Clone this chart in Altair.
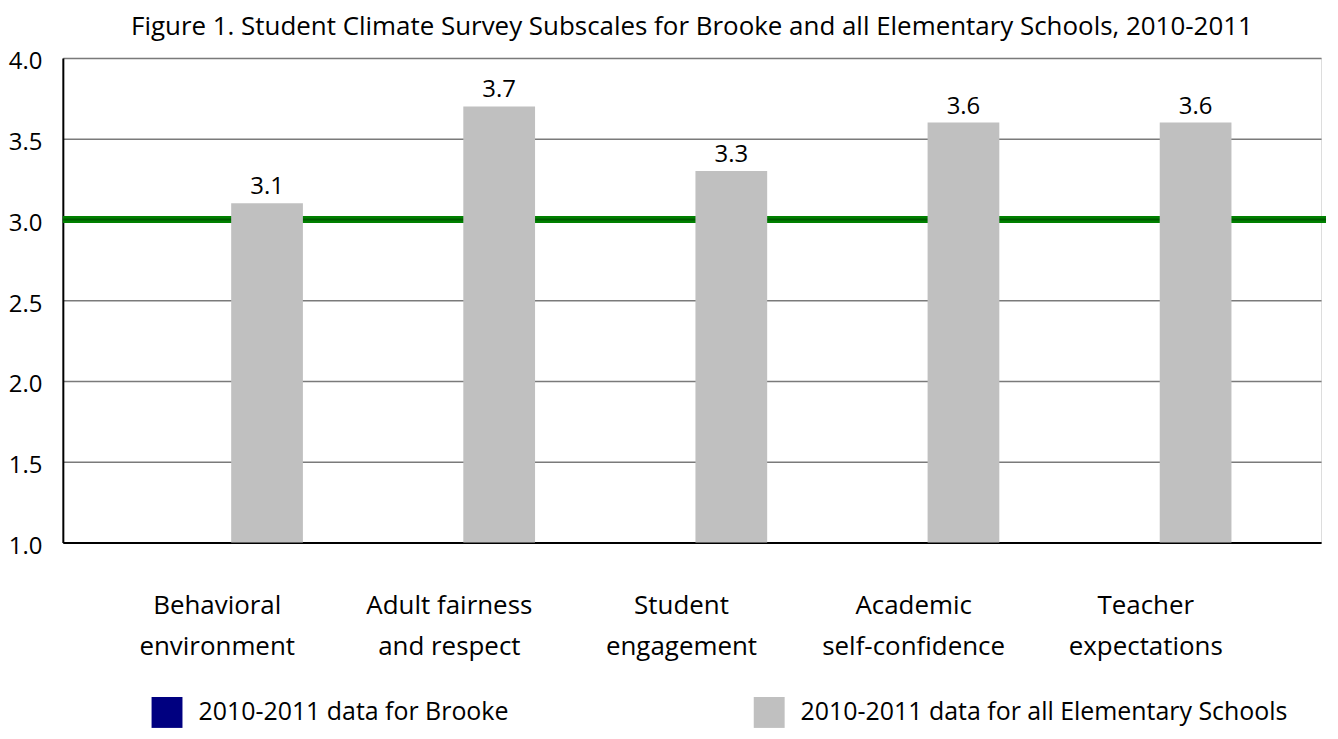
import altair as alt
import pandas as pd

# ---- data ----
categories = ["Behavioral environment", "Adult fairness and respect", "Student engagement",
              "Academic self-confidence", "Teacher expectations"]
label_lines = [["Behavioral", "environment"], ["Adult fairness", "and respect"], ["Student", "engagement"],
               ["Academic", "self-confidence"], ["Teacher", "expectations"]]
series = ["2010-2011 data for Brooke", "2010-2011 data for all Elementary Schools"]
brooke_values = [None, None, None, None, None]
all_elem_values = [3.1, 3.7, 3.3, 3.6, 3.6]
target = 3.0
y_min, y_max = 1.0, 4.0
title_text = "Figure 1. Student Climate Survey Subscales for Brooke and all Elementary Schools, 2010-2011"

FONT = "Open Sans"
W, H = 1262, 486

rows = []
for c, b, a in zip(categories, brooke_values, all_elem_values):
    rows.append({"cat": c, "series": series[0], "value": b})
    rows.append({"cat": c, "series": series[1], "value": a})
df = pd.DataFrame(rows)

# multi-line label expression
parts = []
for c, lines in zip(categories, label_lines):
    arr = "[" + ",".join("'" + l + "'" for l in lines) + "]"
    parts.append(f"datum.value == '{c}' ? {arr} : ")
label_expr = "".join(parts) + "datum.label"

x_enc = alt.X("cat:N", sort=categories, title=None,
              scale=alt.Scale(paddingInner=0.1416, paddingOuter=0.2808, align=0.42),
              axis=alt.Axis(labelAngle=0, labelExpr=label_expr, labelFont=FONT, labelFontSize=26,
                            labelColor="black", labelPadding=50, labelLineHeight=41, ticks=False,
                            domainColor="black", domainWidth=2, labelLimit=400))
xoff = alt.XOffset("series:N", sort=series, scale=alt.Scale(paddingInner=0.28, paddingOuter=0.14))
y_enc = alt.Y("value:Q", title=None,
              scale=alt.Scale(domain=[y_min, y_max], zero=False, nice=False),
              axis=alt.Axis(values=[1.0, 1.5, 2.0, 2.5, 3.0, 3.5, 4.0], format=".1f", labelFont=FONT,
                            labelFontSize=24, labelColor="black", labelPadding=21, labelOffset=4,
                            ticks=False, domainColor="black", domainWidth=2, gridColor="#7a7a7a",
                            gridWidth=1.5, gridOpacity=1))

bars = alt.Chart(df).mark_bar().encode(
    x=x_enc,
    xOffset=xoff,
    y=y_enc,
    y2=alt.datum(y_min),
    color=alt.Color("series:N", sort=series,
                    scale=alt.Scale(domain=series, range=["#000080", "#C0C0C0"]),
                    legend=alt.Legend(orient="none", legendX=89, legendY=641, direction="horizontal",
                                      title=None, symbolType="square", symbolSize=961,
                                      symbolStrokeWidth=0, symbolOpacity=1, labelFont=FONT,
                                      labelFontSize=25, labelColor="black", labelLimit=700,
                                      labelOffset=16, columnPadding=245)),
)

labels = alt.Chart(df).mark_text(baseline="bottom", dy=-4, font=FONT, fontSize=24, color="black").encode(
    x=alt.X("cat:N", sort=categories),
    xOffset=xoff,
    y=alt.Y("value:Q"),
    text=alt.Text("value:Q", format=".1f"),
)

target_df = pd.DataFrame({"v": [target]})
green = alt.Chart(target_df).mark_rule(color="#008000", strokeWidth=7).encode(
    y="v:Q", x=alt.value(0), x2=alt.value(W + 5))
green_core = alt.Chart(target_df).mark_rule(color="#005a00", strokeWidth=2).encode(
    y="v:Q", x=alt.value(0), x2=alt.value(W + 5))

chart = alt.layer(green, green_core, bars, labels).properties(
    width=W, height=H,
    padding={"left": 0, "top": 5, "right": 0, "bottom": 0},
    title=alt.Title(title_text, font=FONT, fontSize=26, fontWeight="normal", color="black",
                    anchor="middle", offset=10),
).configure_view(stroke=None).configure(background="white")

chart.save("out.html", embed_options={"renderer": "svg", "actions": False})
